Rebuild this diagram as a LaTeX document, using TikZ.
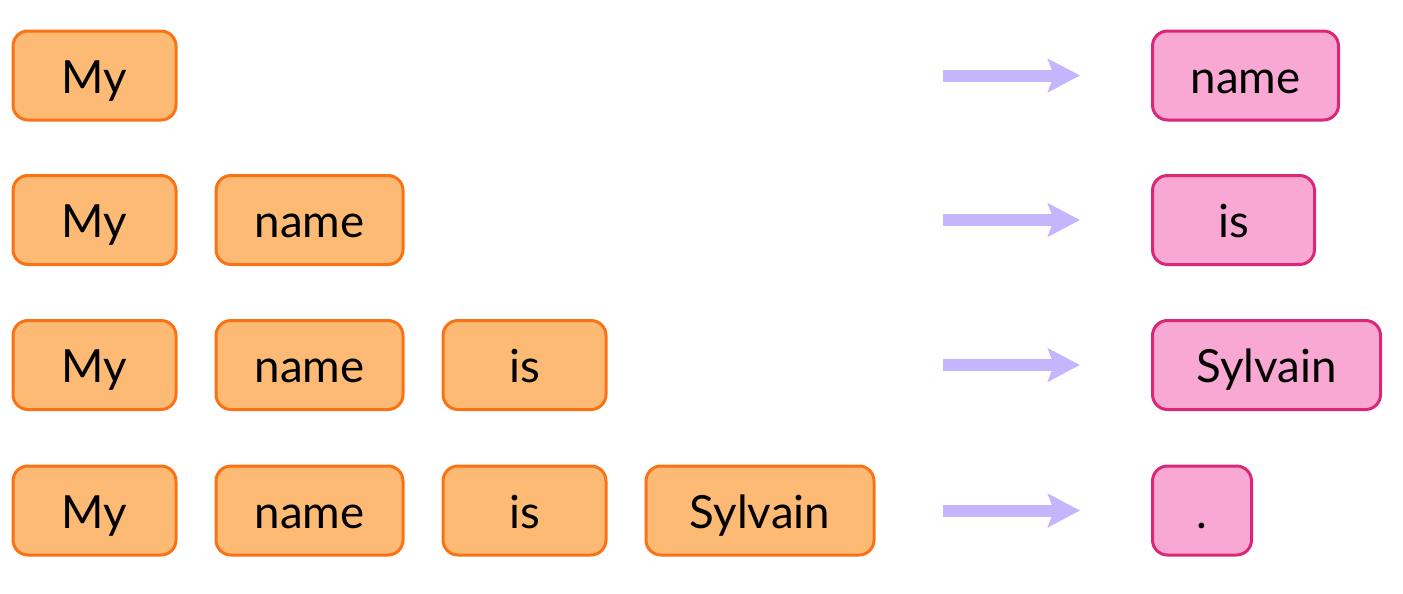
\documentclass[tikz,border=0pt]{standalone}
\usepackage{fontspec}
\setmainfont{Lato}
\usepackage{tikz}
\usetikzlibrary{arrows.meta}
\usetikzlibrary{positioning}

\definecolor{tokfill}{HTML}{FDBA74}
\definecolor{tokline}{HTML}{F97316}
\definecolor{predfill}{HTML}{F9A8D4}
\definecolor{predline}{HTML}{DB2777}
\definecolor{arrowcol}{HTML}{C4B5FD}

\tikzset{
	box/.style={rounded corners=0.3cm, line width=0.06cm, minimum height=1.78cm,
		text height=0.9cm, text depth=0.2cm, inner sep=0pt,
		font=\fontsize{26}{30}\selectfont},
	tok/.style={box, fill=tokfill, draw=tokline, minimum width=#1},
	pred/.style={box, fill=predfill, draw=predline, minimum width=#1, anchor=west},
	nextarrow/.style={draw=arrowcol, line width=0.24cm,
		-{Stealth[length=0.64cm, width=0.66cm, inset=0.12cm]}}
}

\begin{document}
\begin{tikzpicture}
\useasboundingbox (0,0) rectangle (28.06,-11.86);

% row 1
\node[tok=3.26cm] (my1) at (1.89,-1.51) {My};

% row 2
\node[tok=3.26cm] (my2) at (1.89,-4.40) {My};
\node[tok=3.74cm] (name2) at (6.19,-4.40) {name};

% row 3
\node[tok=3.26cm] (my3) at (1.89,-7.30) {My};
\node[tok=3.74cm] (name3) at (6.19,-7.30) {name};
\node[tok=3.26cm] (is3) at (10.49,-7.30) {is};

% row 4
\node[tok=3.26cm] (my4) at (1.89,-10.21) {My};
\node[tok=3.74cm] (name4) at (6.19,-10.21) {name};
\node[tok=3.26cm] (is4) at (10.49,-10.21) {is};
\node[tok=4.56cm] (sylvain4) at (15.20,-10.21) {Sylvain};

% predictions
\node[pred=3.72cm] (next1) at (23.02,-1.51) {name};
\node[pred=3.24cm] (next2) at (23.02,-4.40) {is};
\node[pred=4.56cm] (next3) at (23.02,-7.30) {Sylvain};
\node[pred=1.98cm] (next4) at (23.02,-10.21) {.};

\foreach \r in {1,2,3,4}
{
	\coordinate (from\r) at (18.86,0 |- next\r.west);
	\coordinate (to\r) at (21.60,0 |- next\r.west);
	\draw[nextarrow] (from\r) -- (to\r);
}

\end{tikzpicture}
\end{document}
